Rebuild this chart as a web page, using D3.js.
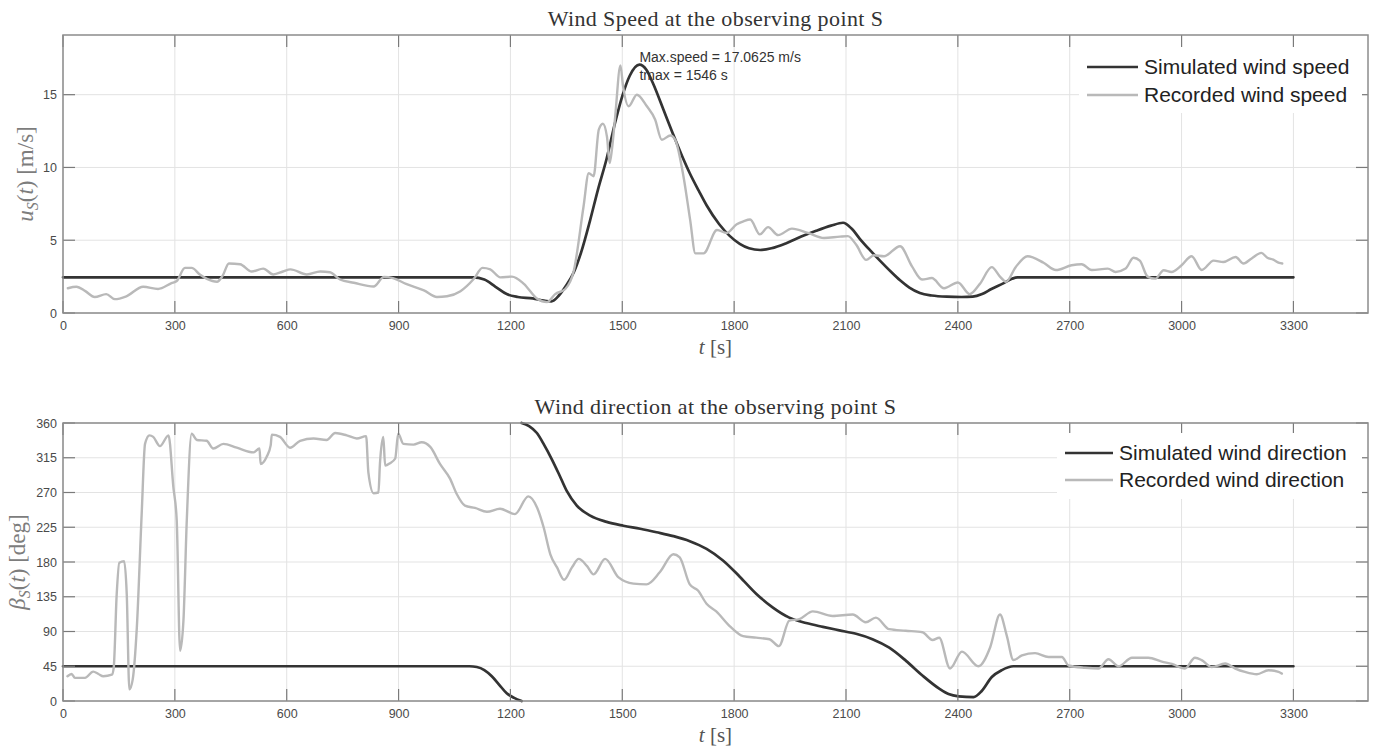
<!DOCTYPE html>
<html>
<head>
<meta charset="utf-8">
<script src="https://cdn.jsdelivr.net/npm/d3@7"></script>
<style>
  html, body { margin: 0; padding: 0; background: #fff; }
  svg { display: block; }
</style>
</head>
<body>
<svg id="chart" width="1373" height="746"></svg>
<script>
// ---- data -------------------------------------------------------------
const timeTicks = [0, 300, 600, 900, 1200, 1500, 1800, 2100, 2400, 2700, 3000, 3300];
const speedTicks = [0, 5, 10, 15];
const directionTicks = [0, 45, 90, 135, 180, 225, 270, 315, 360];

const maxSpeed = 17.0625;
const tMax = 1546;

// simulated wind speed [t (s), u (m/s)]
const simulatedSpeed = [
  [0, 2.45], [1100, 2.45], [1130, 2.3], [1160, 1.8], [1190, 1.3], [1220, 1.1], [1260, 1.0],
  [1290, 0.85], [1310, 0.8], [1330, 1.2], [1350, 1.9], [1370, 2.8], [1390, 4.2], [1413, 6.3],
  [1435, 8.5], [1458, 10.6], [1480, 13.0], [1500, 14.9], [1520, 16.3], [tMax, maxSpeed],
  [1565, 16.7], [1582, 15.8], [1610, 14.0], [1636, 12.3], [1660, 10.8], [1681, 9.6],
  [1705, 8.4], [1726, 7.4], [1760, 6.1], [1788, 5.3], [1815, 4.75], [1840, 4.45], [1870, 4.33],
  [1900, 4.45], [1940, 4.8], [1980, 5.25], [2020, 5.65], [2060, 6.0], [2092, 6.2], [2115, 5.8],
  [2137, 5.1], [2165, 4.3], [2191, 3.6], [2220, 2.85], [2245, 2.25], [2270, 1.75], [2298, 1.38],
  [2330, 1.2], [2370, 1.12], [2410, 1.1], [2440, 1.12], [2465, 1.3], [2490, 1.65], [2523, 2.05],
  [2545, 2.35], [2560, 2.45], [3300, 2.45]
];

// recorded wind speed [t (s), u (m/s)]
const recordedSpeed = [
  [13, 1.7], [36, 1.8], [60, 1.5], [85, 1.1], [116, 1.3], [139, 0.95], [170, 1.15], [215, 1.8],
  [255, 1.65], [291, 2.05], [305, 2.2], [327, 3.1], [345, 3.1], [367, 2.65], [386, 2.35],
  [413, 2.15], [428, 2.55], [445, 3.4], [475, 3.35], [506, 2.85], [537, 3.05], [564, 2.65],
  [590, 2.85], [610, 3.0], [654, 2.65], [690, 2.85], [716, 2.8], [743, 2.3], [780, 2.08],
  [833, 1.82], [861, 2.48], [885, 2.4], [920, 2.0], [968, 1.55], [1003, 1.1], [1030, 1.15],
  [1066, 1.5], [1102, 2.35], [1125, 3.1], [1146, 3.0], [1173, 2.45], [1204, 2.5], [1236, 2.0],
  [1271, 1.0], [1298, 0.75], [1320, 1.3], [1347, 1.65], [1370, 2.9], [1396, 7.3], [1410, 9.6],
  [1423, 9.4], [1437, 12.6], [1448, 13.0], [1459, 12.1], [1466, 10.3], [1472, 11.2],
  [1481, 13.5], [1495, 17.0], [1502, 15.6], [1517, 14.2], [1539, 15.0], [1566, 14.2],
  [1588, 13.3], [1606, 11.9], [1629, 12.2], [1642, 11.9], [1664, 9.4], [1682, 6.4], [1696, 4.1],
  [1718, 4.1], [1754, 5.7], [1780, 5.5], [1807, 6.1], [1825, 6.3], [1843, 6.42], [1869, 5.4],
  [1891, 5.9], [1918, 5.35], [1955, 5.8], [1998, 5.5], [2041, 5.15], [2084, 5.25], [2105, 5.28],
  [2127, 4.7], [2154, 3.65], [2175, 3.97], [2202, 3.9], [2245, 4.59], [2277, 3.2], [2304, 2.3],
  [2330, 2.4], [2363, 1.7], [2400, 2.1], [2432, 1.3], [2459, 2.0], [2491, 3.15], [2513, 2.5],
  [2529, 2.15], [2555, 3.15], [2587, 3.9], [2630, 3.45], [2663, 2.95], [2705, 3.28], [2732, 3.35],
  [2759, 2.95], [2802, 3.05], [2823, 2.82], [2850, 3.05], [2871, 3.8], [2888, 3.6], [2909, 2.5],
  [2930, 2.36], [2952, 2.94], [2973, 2.82], [3000, 3.28], [3027, 3.9], [3054, 2.95], [3086, 3.6],
  [3112, 3.5], [3145, 3.85], [3166, 3.4], [3188, 3.75], [3214, 4.13], [3230, 3.8], [3246, 3.67],
  [3262, 3.44], [3270, 3.4]
];

// simulated wind direction [t (s), beta (deg)], wraps from 0 to 360 near t = 1230 s
const simulatedDirection = [
  [0, 45], [1090, 45], [1110, 44], [1130, 40], [1150, 32], [1170, 21], [1190, 10], [1210, 4],
  [1230, 0], [1230, 360], [1250, 356], [1271, 347], [1290, 332], [1310, 314], [1330, 294],
  [1351, 272], [1378, 253], [1414, 240], [1458, 232], [1503, 227], [1548, 223], [1592, 218.5],
  [1637, 213.5], [1681, 207], [1726, 197], [1770, 182], [1815, 161], [1859, 139], [1904, 121],
  [1948, 108], [1993, 101], [2038, 96], [2082, 91.5], [2127, 87], [2171, 80], [2216, 69],
  [2261, 52], [2305, 33], [2350, 16], [2375, 9], [2402, 6], [2442, 5], [2464, 13], [2491, 31],
  [2518, 40], [2549, 45], [3300, 45]
];

// recorded wind direction [t (s), beta (deg)]
const recordedDirection = [
  [12, 32], [23, 35], [32, 30], [59, 30], [81, 38], [95, 35], [108, 32], [131, 34], [136, 43],
  [144, 138], [151, 179], [164, 181], [171, 138], [178, 15], [187, 28], [198, 95], [211, 242],
  [220, 333], [232, 344], [242, 342], [260, 330], [283, 344], [296, 277], [305, 234], [314, 65],
  [323, 104], [332, 234], [345, 346], [359, 338], [385, 337], [403, 327], [430, 333], [466, 328],
  [511, 322], [527, 327], [530, 307], [546, 316], [557, 331], [560, 345], [582, 342], [609, 328],
  [636, 337], [672, 340], [707, 338], [730, 347], [761, 344], [788, 340], [813, 343], [819, 296],
  [833, 269], [846, 270], [850, 307], [859, 342], [864, 305], [877, 308], [891, 314], [899, 346],
  [913, 333], [940, 332], [962, 335], [985, 329], [1011, 307], [1038, 288], [1056, 268],
  [1078, 253], [1105, 250], [1137, 245], [1172, 249], [1212, 242], [1248, 265], [1271, 251],
  [1289, 225], [1307, 190], [1325, 173], [1344, 157], [1365, 173], [1383, 184], [1405, 175],
  [1423, 164], [1454, 184], [1490, 160], [1530, 152], [1565, 151], [1601, 167], [1637, 190],
  [1654, 186], [1681, 151], [1703, 143], [1726, 126], [1752, 116], [1788, 97], [1824, 84],
  [1859, 82], [1895, 80], [1920, 71], [1948, 104], [1975, 106], [2011, 116], [2064, 110],
  [2118, 112], [2153, 102], [2180, 108], [2216, 93], [2260, 91], [2305, 89], [2332, 79],
  [2350, 82], [2379, 42], [2411, 64], [2455, 45], [2487, 70], [2513, 112], [2531, 85],
  [2549, 53], [2572, 59], [2607, 62], [2643, 57], [2679, 57], [2697, 46], [2741, 43], [2777, 42],
  [2804, 54], [2831, 45], [2867, 56], [2911, 56], [2947, 51], [2974, 48], [3009, 42], [3036, 56],
  [3054, 53], [3081, 44], [3117, 48.5], [3144, 42], [3170, 37.6], [3202, 34.6], [3233, 39.8],
  [3260, 37.6], [3269, 35.5]
];

// ---- styling ----------------------------------------------------------
const SIM_COLOR = "#333333";
const REC_COLOR = "#b9b9b9";
const FRAME_COLOR = "#8c8c8c";
const GRID_COLOR = "#e3e3e3";
const TICK_TEXT = "#4a4a4a";
const SANS = "'Liberation Sans', Arial, Helvetica, sans-serif";
const SERIF = "'Liberation Serif', 'Times New Roman', serif";

const svg = d3.select("#chart");

// split a series wherever the angle wraps around (jump larger than 180)
function splitWrap(data) {
  const segs = [[data[0]]];
  for (let i = 1; i < data.length; i++) {
    if (Math.abs(data[i][1] - data[i - 1][1]) > 180) segs.push([]);
    segs[segs.length - 1].push(data[i]);
  }
  return segs;
}

function panel(opts) {
  const { top, bottom, left, right, yDomain, yTicks, title, series, legend, yLabel } = opts;
  const x = d3.scaleLinear().domain([0, 3500]).range([left, right]);
  const y = d3.scaleLinear().domain(yDomain).range([bottom, top]);
  const g = svg.append("g");

  // grid
  g.append("g").selectAll("line").data(timeTicks).join("line")
    .attr("x1", d => x(d)).attr("x2", d => x(d))
    .attr("y1", top).attr("y2", bottom)
    .attr("stroke", GRID_COLOR).attr("stroke-width", 1);
  g.append("g").selectAll("line").data(yTicks).join("line")
    .attr("x1", left).attr("x2", right)
    .attr("y1", d => y(d)).attr("y2", d => y(d))
    .attr("stroke", GRID_COLOR).attr("stroke-width", 1);

  // series
  const line = d3.line().x(d => x(d[0])).y(d => y(d[1])).curve(d3.curveMonotoneX);
  series.forEach(s => {
    const segs = s.wrap ? splitWrap(s.data) : [s.data];
    segs.forEach(seg => {
      g.append("path").datum(seg)
        .attr("d", line)
        .attr("fill", "none")
        .attr("stroke", s.color)
        .attr("stroke-width", s.width)
        .attr("stroke-linejoin", "round")
        .attr("stroke-linecap", "round");
    });
  });

  // axes: ticks pointing inward on all four sides
  const tl = 12;
  const bottomAxis = d3.axisBottom(x).tickValues(timeTicks).tickSize(0).tickPadding(8)
    .tickFormat(d3.format("d"));
  const ax = g.append("g").attr("transform", `translate(0,${bottom})`).call(bottomAxis);
  ax.select(".domain").remove();
  ax.selectAll("text").attr("fill", TICK_TEXT).style("font-family", SANS).style("font-size", "12.5px");

  const leftAxis = d3.axisLeft(y).tickValues(yTicks).tickSize(0).tickPadding(6)
    .tickFormat(d3.format("d"));
  const ay = g.append("g").attr("transform", `translate(${left},0)`).call(leftAxis);
  ay.select(".domain").remove();
  ay.selectAll("text").attr("fill", TICK_TEXT).style("font-family", SANS).style("font-size", "12.5px");

  const tickG = g.append("g").attr("stroke", "#7a7a7a").attr("stroke-width", 1.2);
  timeTicks.forEach(t => {
    tickG.append("line").attr("x1", x(t)).attr("x2", x(t)).attr("y1", bottom).attr("y2", bottom - tl);
    tickG.append("line").attr("x1", x(t)).attr("x2", x(t)).attr("y1", top).attr("y2", top + tl);
  });
  yTicks.forEach(v => {
    tickG.append("line").attr("x1", left).attr("x2", left + tl).attr("y1", y(v)).attr("y2", y(v));
    tickG.append("line").attr("x1", right).attr("x2", right - tl).attr("y1", y(v)).attr("y2", y(v));
  });

  // frame
  g.append("rect").attr("x", left).attr("y", top)
    .attr("width", right - left).attr("height", bottom - top)
    .attr("fill", "none").attr("stroke", FRAME_COLOR).attr("stroke-width", 1.5);

  // title
  g.append("text").attr("x", (left + right) / 2).attr("y", top - 9)
    .attr("text-anchor", "middle").attr("fill", "#333")
    .style("font-family", SERIF).style("font-size", "22px")
    .style("letter-spacing", "0.4px")
    .text(title);

  // x label: t [s]
  const xl = g.append("text").attr("x", (left + right) / 2).attr("y", bottom + 41)
    .attr("text-anchor", "middle").attr("fill", "#555")
    .style("font-family", SERIF).style("font-size", "21px");
  xl.append("tspan").style("font-style", "italic").text("t");
  xl.append("tspan").text(" [s]");

  // y label
  const yl = g.append("text")
    .attr("transform", `translate(${yLabel.x},${(top + bottom) / 2}) rotate(-90)`)
    .attr("text-anchor", "middle").attr("fill", "#7d7d7d")
    .style("font-family", SERIF).style("font-size", "23px");
  yl.append("tspan").style("font-style", "italic").text(yLabel.symbol);
  yl.append("tspan").attr("dy", 5).style("font-size", "16px").style("font-style", "italic").text("S");
  yl.append("tspan").attr("dy", -5).text("(");
  yl.append("tspan").style("font-style", "italic").text("t");
  yl.append("tspan").text(") [" + yLabel.unit + "]");

  // legend (white background, no border)
  g.append("rect").attr("x", legend.x - 8).attr("y", legend.y - 20)
    .attr("width", right - legend.x + 2).attr("height", 66)
    .attr("fill", "#fff");
  legend.items.forEach((it, i) => {
    const ly = legend.y + i * legend.gap;
    g.append("line").attr("x1", legend.x).attr("x2", legend.x + legend.len)
      .attr("y1", ly).attr("y2", ly)
      .attr("stroke", it.color).attr("stroke-width", 2.6);
    g.append("text").attr("x", legend.x + legend.len + 6).attr("y", ly)
      .attr("dy", "0.35em").attr("fill", "#222")
      .style("font-family", SANS).style("font-size", "21px")
      .text(it.label);
  });

  return { x, y, g };
}

// ---- upper panel: wind speed -------------------------------------------
const p1 = panel({
  top: 35, bottom: 313, left: 63, right: 1368,
  yDomain: [0, 19.1], yTicks: speedTicks,
  title: "Wind Speed at the observing point S",
  yLabel: { x: 33, symbol: "u", unit: "m/s" },
  series: [
    { data: simulatedSpeed, color: SIM_COLOR, width: 2.7 },
    { data: recordedSpeed, color: REC_COLOR, width: 2.4 }
  ],
  legend: {
    x: 1087, y: 67, gap: 28, len: 51,
    items: [
      { label: "Simulated wind speed", color: SIM_COLOR },
      { label: "Recorded wind speed", color: REC_COLOR }
    ]
  }
});

// peak annotation
const ann = p1.g.append("text")
  .attr("x", p1.x(tMax)).attr("y", p1.y(maxSpeed) - 3)
  .attr("fill", "#333").style("font-family", SANS).style("font-size", "14px");
ann.append("tspan").attr("x", p1.x(tMax)).text("Max.speed = " + maxSpeed + " m/s");
ann.append("tspan").attr("x", p1.x(tMax)).attr("dy", 18).text("tmax = " + tMax + " s");

// ---- lower panel: wind direction ---------------------------------------
panel({
  top: 423, bottom: 701, left: 63, right: 1368,
  yDomain: [0, 360], yTicks: directionTicks,
  title: "Wind direction at the observing point S",
  yLabel: { x: 25, symbol: "β", unit: "deg" },
  series: [
    { data: simulatedDirection, color: SIM_COLOR, width: 2.7, wrap: true },
    { data: recordedDirection, color: REC_COLOR, width: 2.4 }
  ],
  legend: {
    x: 1065, y: 453, gap: 27, len: 48,
    items: [
      { label: "Simulated wind direction", color: SIM_COLOR },
      { label: "Recorded wind direction", color: REC_COLOR }
    ]
  }
});
</script>
</body>
</html>
